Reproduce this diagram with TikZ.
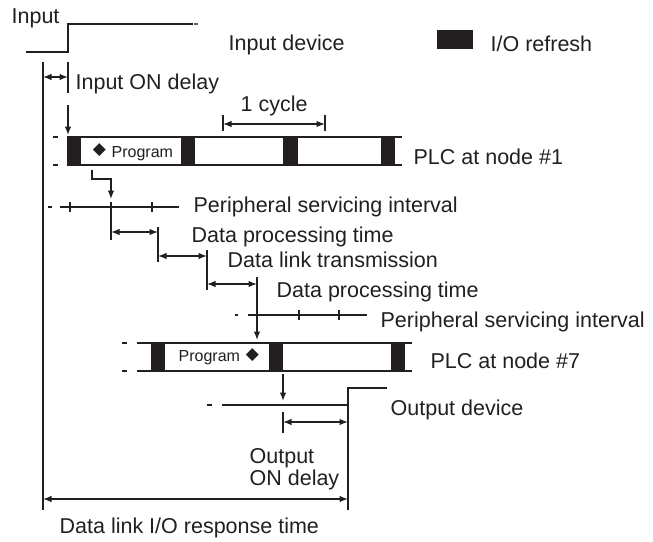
\documentclass[tikz,border=0pt]{standalone}
\usepackage{fontspec}
\setmainfont{Liberation Sans}
\newfontfamily\djv{DejaVu Sans}
\usetikzlibrary{arrows.meta}
\definecolor{ink}{HTML}{231F20}
\begin{document}
\begin{tikzpicture}[x=1pt,y=-1pt, line width=1.3pt, draw=ink,
 lbl/.style={anchor=base west, inner sep=0pt, font=\fontsize{21.5}{24}\selectfont, text=ink},
 smalllbl/.style={anchor=base west, inner sep=0pt, font=\fontsize{16}{18}\selectfont, text=ink},
 dia/.style={anchor=center, inner sep=0pt, font=\djv\fontsize{17}{17}\selectfont, text=ink},
 arr/.style={-{Latex[length=8.5pt,width=6.5pt]}},
 dbl/.style={{Latex[length=8.5pt,width=6.5pt]}-{Latex[length=8.5pt,width=6.5pt]}},
 sig/.style={draw=ink, line width=1.3pt}]
\useasboundingbox (0,0) rectangle (653,541);

% ---------- texts ----------
\node[lbl] (tin) at (11,23) {Input};
\node[lbl] (tindev) at (228,50) {Input device};
\node[lbl] (tio) at (490,51) {I/O refresh};
\node[lbl] (tdelay) at (75,89) {Input ON delay};
\node[lbl] (tcyc) at (240,111) {1 cycle};
\node[lbl] (tplc1) at (413,164) {PLC at node \#1};
\node[dia] (d1) at (99.5,150.5) {◆};
\node[smalllbl] (tprog1) at (111,157) {Program};
\node[lbl] (tper1) at (193,212) {Peripheral servicing interval};
\node[lbl] (tdp1) at (191,242) {Data processing time};
\node[lbl] (tdlt) at (227,267) {Data link transmission};
\node[lbl] (tdp2) at (276,297) {Data processing time};
\node[lbl] (tper2) at (380,327) {Peripheral servicing interval};
\node[smalllbl] (tprog7) at (178,361) {Program};
\node[dia] (d7) at (252.5,355.5) {◆};
\node[lbl] (tplc7) at (430,368) {PLC at node \#7};
\node[lbl] (tout) at (390,415) {Output device};
\node[lbl] (tond1) at (249,463) {Output};
\node[lbl] (tond2) at (249,485) {ON delay};
\node[lbl] (tresp) at (59,533) {Data link I/O response time};

% ---------- legend ----------
\fill[ink] (437,30) rectangle (473,49);

% ---------- input signal ----------
\coordinate (i0) at (26,52);
\coordinate (i1) at (68,52);
\coordinate (i2) at (68,24);
\coordinate (i3) at (193,24);
\draw[sig] (i0) -- (i1) -- (i2) -- (i3);
\draw[draw=ink!70, line width=1.3pt] (194,24) -- (198,24);

% ---------- left reference line ----------
\coordinate (L0) at (43,62);
\coordinate (L1) at (43,510);
\draw[sig] (L0) -- (L1);

% input ON delay
\coordinate (a0) at (68,62);
\coordinate (a1) at (68,93);
\coordinate (a2) at (68,105);
\coordinate (a3) at (68,135);
\draw[sig] (a0) -- (a1);
\draw[sig, arr] (a2) -- (a3);
\coordinate (b0) at (43,77);
\coordinate (b1) at (68,77);
\draw[sig, dbl] (b0) -- (b1);

% 1 cycle
\coordinate (c0) at (223,124);
\coordinate (c1) at (325,124);
\draw[sig, dbl] (c0) -- (c1);
\draw[sig] (223,115) -- (223,131);
\draw[sig] (325,115) -- (325,131);

% ---------- PLC #1 bar ----------
\draw[sig] (67,137) -- (402,137);
\draw[sig] (67,165) -- (402,165);
\draw[sig] (53,137) -- (58,137);
\draw[sig] (53,165) -- (58,165);
\fill[ink] (67,137) rectangle (81,165);
\fill[ink] (181,137) rectangle (195,165);
\fill[ink] (283,137) rectangle (298,165);
\fill[ink] (381,137) rectangle (395,165);

% elbow arrow
\coordinate (e0) at (92,170);
\coordinate (e1) at (92,179);
\coordinate (e2) at (111,179);
\coordinate (e3) at (111,199);
\draw[sig, arr] (e0) -- (e1) -- (e2) -- (e3);

% ---------- peripheral #1 ----------
\draw[sig] (48,207) -- (52,207);
\draw[sig] (60,207) -- (179,207);
\draw[sig] (70,202) -- (70,212);
\draw[sig] (152,202) -- (152,212);
\draw[sig] (111,202) -- (111,240);

% data processing 1
\coordinate (p0) at (111,232);
\coordinate (p1) at (158,232);
\draw[sig, dbl] (p0) -- (p1);
\draw[sig] (158,227) -- (158,262);
% data link transmission
\coordinate (q0) at (158,256);
\coordinate (q1) at (207,256);
\draw[sig, dbl] (q0) -- (q1);
\draw[sig] (207,250) -- (207,290);
% data processing 2
\coordinate (r0) at (207,284);
\coordinate (r1) at (257,284);
\draw[sig, dbl] (r0) -- (r1);
\coordinate (s0) at (257,277);
\coordinate (s1) at (257,340);
\draw[sig, arr] (s0) -- (s1);

% ---------- peripheral #2 ----------
\draw[sig] (235,315) -- (238,315);
\draw[sig] (248,315) -- (367,315);
\draw[sig] (299,310) -- (299,320);
\draw[sig] (339,310) -- (339,320);

% ---------- PLC #7 bar ----------
\draw[sig] (137,343) -- (412,343);
\draw[sig] (137,371) -- (412,371);
\draw[sig] (122,343) -- (127,343);
\draw[sig] (122,371) -- (127,371);
\fill[ink] (151,343) rectangle (165,371);
\fill[ink] (269,343) rectangle (283,371);
\fill[ink] (391,343) rectangle (405,371);

% arrow to output
\coordinate (t0) at (283,374);
\coordinate (t1) at (283,401);
\draw[sig, arr] (t0) -- (t1);

% ---------- output signal ----------
\draw[sig] (207,405) -- (212,405);
\coordinate (o0) at (222,405);
\coordinate (o1) at (348,405);
\coordinate (o2) at (348,388);
\coordinate (o3) at (387,388);
\draw[sig] (o0) -- (o1) -- (o2) -- (o3);
\coordinate (o4) at (348,510);
\draw[sig] (o1) -- (o4);

% output ON delay
\draw[sig] (283,412) -- (283,433);
\coordinate (u0) at (283,422);
\coordinate (u1) at (348,422);
\draw[sig, dbl] (u0) -- (u1);

% response time
\coordinate (v0) at (43,499);
\coordinate (v1) at (348,499);
\draw[sig, dbl] (v0) -- (v1);
\end{tikzpicture}
\end{document}
